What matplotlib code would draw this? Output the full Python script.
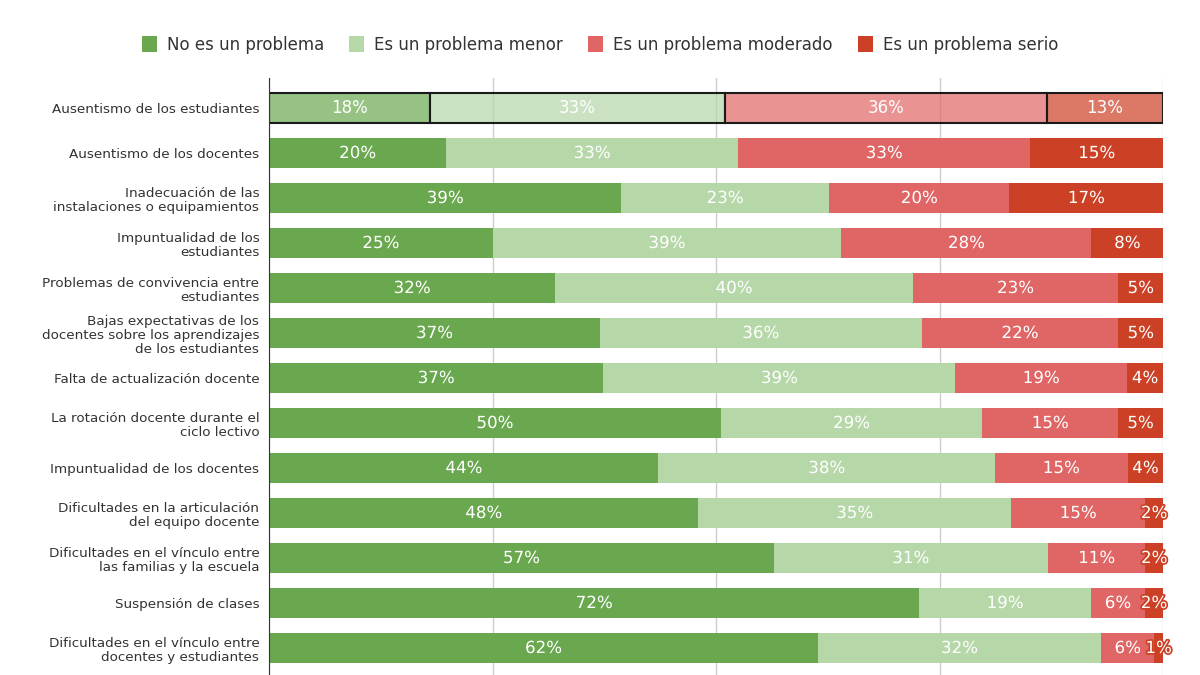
import numpy as np
import matplotlib.pyplot as plt
import matplotlib.patheffects as pe
from matplotlib.patches import Patch
from matplotlib.colors import to_rgba

categories = [
    "Ausentismo de los estudiantes",
    "Ausentismo de los docentes",
    "Inadecuación de las\ninstalaciones o equipamientos",
    "Impuntualidad de los\nestudiantes",
    "Problemas de convivencia entre\nestudiantes",
    "Bajas expectativas de los\ndocentes sobre los aprendizajes\nde los estudiantes",
    "Falta de actualización docente",
    "La rotación docente durante el\nciclo lectivo",
    "Impuntualidad de los docentes",
    "Dificultades en la articulación\ndel equipo docente",
    "Dificultades en el vínculo entre\nlas familias y la escuela",
    "Suspensión de clases",
    "Dificultades en el vínculo entre\ndocentes y estudiantes",
]

no_problema = [18, 20, 39, 25, 32, 37, 37, 50, 44, 48, 57, 72, 62]
menor = [33, 33, 23, 39, 40, 36, 39, 29, 38, 35, 31, 19, 32]
moderado = [36, 33, 20, 28, 23, 22, 19, 15, 15, 15, 11, 6, 6]
serio = [13, 15, 17, 8, 5, 5, 4, 5, 4, 2, 2, 2, 1]

series_names = ["No es un problema", "Es un problema menor",
                "Es un problema moderado", "Es un problema serio"]
colors = ["#6aa84f", "#b6d7a8", "#e06666", "#cc4125"]

highlight_row = 0

data = np.array([no_problema, menor, moderado, serio], dtype=float)
# 100% stacked, like the original
pct = data / data.sum(axis=0) * 100

fig = plt.figure(figsize=(12, 6.75), dpi=100)
ax = fig.add_axes([269 / 1200, 0.0, (1163 - 269) / 1200, 1 - 78 / 675])

y = np.arange(len(categories))
left = np.zeros(len(categories))
for i, col in enumerate(colors):
    bars = ax.barh(y, pct[i], left=left, height=0.67, color=col, zorder=3)
    for j, b in enumerate(bars):
        cx = left[j] + pct[i][j] / 2
        effects = [pe.withStroke(linewidth=2.5, foreground=col)]
        if j == highlight_row:
            # hovered row: lighter fill, dark outline
            b.set_facecolor(to_rgba(col, 0.7))
            b.set_edgecolor("#1a1a1a")
            b.set_linewidth(1.5)
            effects = []
        ax.text(cx, y[j], "%d%%" % data[i][j], ha="center", va="center",
                color="white", fontsize=12, zorder=5, path_effects=effects)
    left += pct[i]

ax.set_xlim(0, 100)
ax.set_ylim(12.6, -0.667)
ax.set_yticks(y)
ax.set_yticklabels(categories, fontsize=9.7, color="#333333",
                   linespacing=1.1, ha="right", multialignment="right")
ax.tick_params(axis="y", length=0, pad=7)
ax.set_xticks([0, 25, 50, 75, 100])
ax.tick_params(axis="x", length=0, labelbottom=False)
ax.grid(axis="x", color="#cccccc", linewidth=1, zorder=0)
for s in ["top", "right", "bottom"]:
    ax.spines[s].set_visible(False)
ax.spines["left"].set_color("#333333")
ax.spines["left"].set_zorder(6)

handles = [Patch(facecolor=c, edgecolor="none") for c in colors]
leg = fig.legend(handles, series_names, loc="center",
                 bbox_to_anchor=(0.5, 1 - 45 / 675),
                 ncol=4, frameon=False, fontsize=12, handlelength=0.9,
                 handleheight=1.1, handletextpad=0.6, columnspacing=1.5)
for t in leg.get_texts():
    t.set_color("#333333")

fig.savefig("out.png", dpi=100)
